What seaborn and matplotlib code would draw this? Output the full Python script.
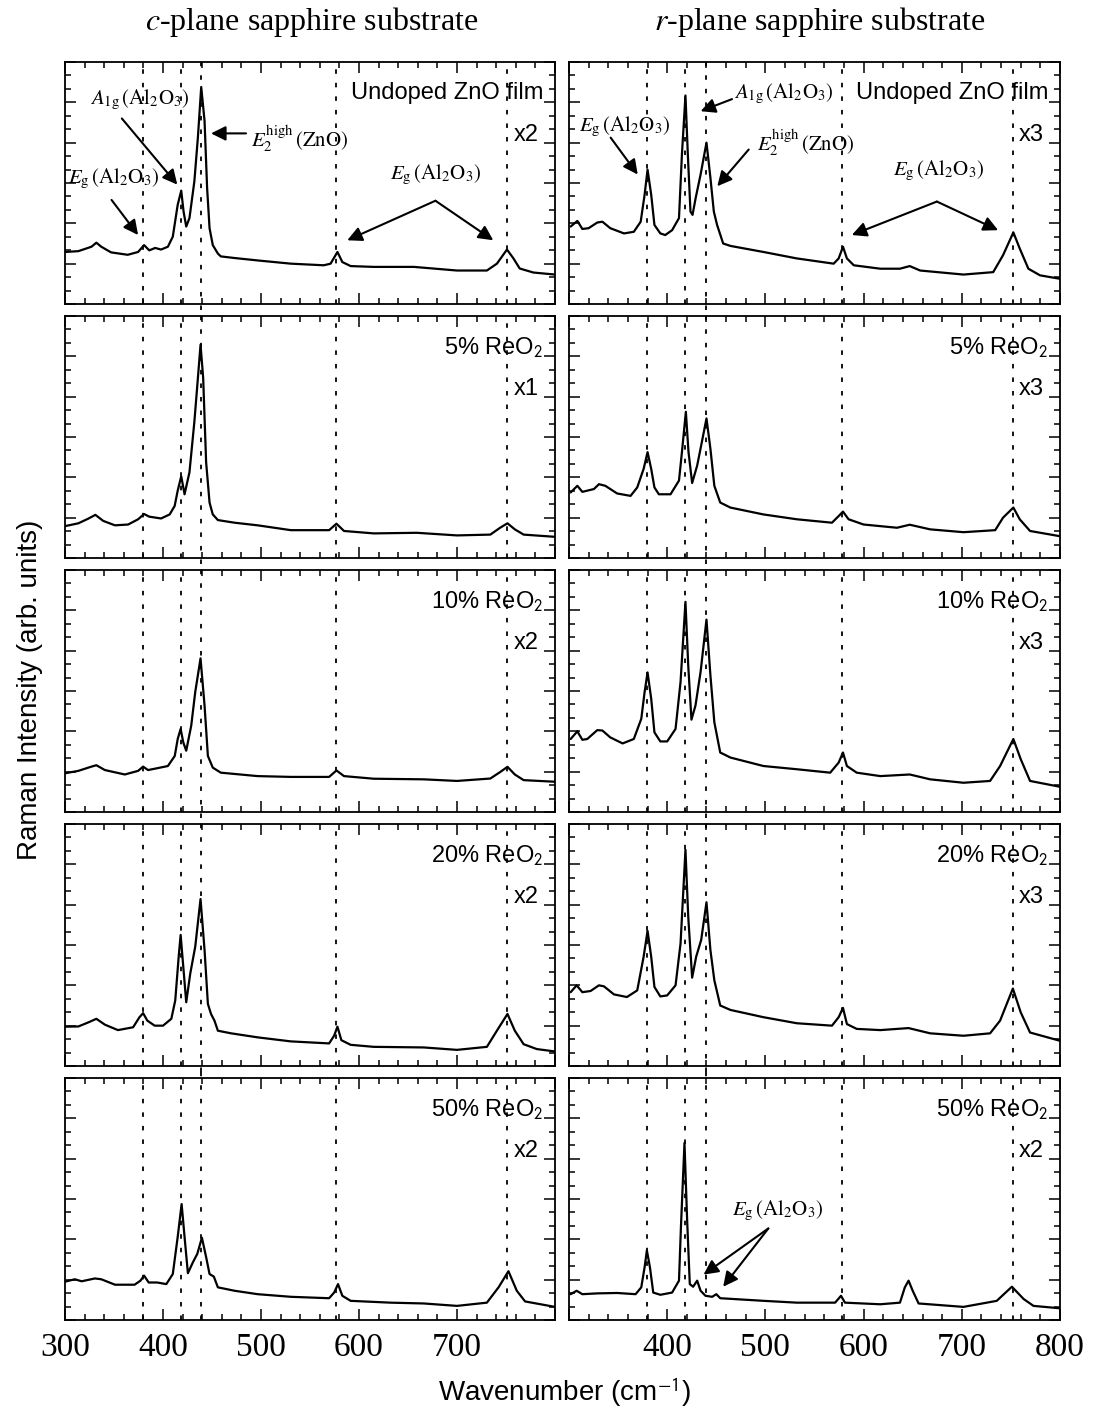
import matplotlib
matplotlib.use("Agg")
import matplotlib.pyplot as plt
from matplotlib.ticker import MultipleLocator
import seaborn as sns

sns.set_theme(style="ticks")
plt.rcParams["font.family"] = ["Liberation Sans", "DejaVu Sans"]
plt.rcParams["mathtext.fontset"] = "stix"
plt.rcParams["text.color"] = "black"
plt.rcParams["axes.labelcolor"] = "black"
plt.rcParams["xtick.color"] = "black"
plt.rcParams["ytick.color"] = "black"

# ---- spectra (wavenumber cm^-1, intensity in tick divisions) ----
c_undoped_x = [300, 313.6, 327, 332, 337, 347, 364, 374.6, 380.7, 386, 392, 398, 405, 410, 415, 418.6, 421, 423.7,
               427, 432, 435.6, 439, 442.4, 445, 447.5, 450.8, 456, 459, 473, 496.6, 530.5, 564, 571, 578, 583,
               591.5, 615, 656, 700, 730.5, 740.7, 751, 757.6, 764, 778, 800]
c_undoped_y = [1.29, 1.31, 1.42, 1.52, 1.42, 1.28, 1.22, 1.29, 1.46, 1.33, 1.39, 1.35, 1.42, 1.67, 2.46, 2.81, 2.29, 1.92,
               2.13, 3.04, 4.13, 5.38, 4.54, 2.88, 1.88, 1.46, 1.25, 1.18, 1.14, 1.08, 1.0, 0.96, 1.0, 1.29, 1.04,
               0.94, 0.92, 0.92, 0.83, 0.83, 1.0, 1.35, 1.13, 0.88, 0.78, 0.73]

r_undoped_x = [301.7, 308.5, 313.6, 320, 328.8, 334, 342, 356, 366, 373, 377, 380, 383.7, 387, 393, 398, 405, 412, 415,
               418.6, 421, 423.7, 425.8, 429, 434, 440, 444, 447.5, 450.8, 457, 464.4, 498, 532, 569.5, 574.6, 579,
               583, 590, 617, 637, 647, 657.6, 701.7, 732, 742, 752.5, 759, 767.8, 779.7, 800]
r_undoped_y = [1.92, 2.06, 1.86, 1.88, 2.02, 2.04, 1.88, 1.75, 1.79, 2.04, 2.71, 3.33, 2.71, 1.96, 1.75, 1.71, 1.83, 2.13,
               3.71, 5.17, 3.71, 2.29, 2.21, 2.63, 3.21, 4.0, 3.13, 2.29, 1.96, 1.5, 1.44, 1.29, 1.13, 1.0, 1.13, 1.42,
               1.13, 0.96, 0.875, 0.875, 0.94, 0.83, 0.73, 0.79, 1.21, 1.775, 1.375, 0.875, 0.71, 0.625]

c_5_x = [300, 313.6, 323.7, 331, 339, 351, 364.4, 374.6, 380.7, 386, 398, 406.8, 411.9, 415, 418.6, 422, 427, 432,
         435.6, 438.3, 441, 444, 447.5, 450.8, 456, 473, 496.6, 530.5, 569.5, 577, 584.7, 615, 659, 700, 734, 744,
         751.5, 759, 768, 800]
c_5_y = [0.79, 0.86, 0.975, 1.07, 0.92, 0.81, 0.83, 0.96, 1.09, 1.025, 0.98, 1.08, 1.29, 1.67, 2.025, 1.58, 2.125, 3.375,
         4.46, 5.29, 4.46, 2.375, 1.375, 1.08, 0.94, 0.875, 0.81, 0.69, 0.69, 0.85, 0.67, 0.61, 0.625, 0.56, 0.58, 0.75,
         0.86, 0.71, 0.58, 0.525]

r_5_x = [301.7, 308.5, 313.6, 325.4, 330.5, 337, 349, 362.7, 369.5, 376, 380, 383.7, 387, 391.5, 403.4, 412, 415, 419,
         421.7, 425.4, 430.5, 434.6, 440, 444, 448, 454, 464.4, 498, 532, 567.8, 574.6, 579, 584.7, 600, 634, 647,
         667.8, 701.7, 734, 742, 752.5, 759, 769.5, 800]
r_5_y = [1.625, 1.79, 1.64, 1.71, 1.83, 1.79, 1.6, 1.54, 1.75, 2.21, 2.625, 2.21, 1.75, 1.58, 1.58, 1.92, 2.625, 3.625,
         2.625, 1.86, 2.29, 2.79, 3.46, 2.71, 1.79, 1.375, 1.25, 1.08, 0.96, 0.875, 1.04, 1.15, 0.96, 0.83, 0.75, 0.825,
         0.71, 0.64, 0.69, 1.0, 1.25, 0.96, 0.67, 0.54]

c_10_x = [300, 313.6, 327, 332, 340.7, 361, 374.6, 379.7, 384.7, 393, 405, 412, 415, 418, 420.7, 423.7, 428.8, 432.9,
          438.3, 442.4, 445.8, 450.8, 459, 496.6, 530.5, 569.5, 577, 584.7, 615, 666, 700, 734, 744, 751.5, 759, 768, 800]
c_10_y = [0.96, 1.02, 1.125, 1.16, 1.04, 0.93, 1.02, 1.125, 1.04, 1.08, 1.14, 1.39, 1.81, 2.06, 1.725, 1.52, 2.14, 2.975,
          3.81, 2.64, 1.39, 1.1, 0.975, 0.89, 0.87, 0.87, 1.03, 0.89, 0.825, 0.81, 0.77, 0.83, 0.99, 1.12, 0.93, 0.79, 0.75]

r_10_x = [301.7, 308.5, 313.6, 318.6, 328.8, 334, 342, 354.6, 366, 373.6, 377, 380, 383.7, 387, 393, 400, 408.5, 413.6,
          418.6, 421.4, 424.7, 428.8, 434, 440, 444, 448, 454, 464.4, 498, 532, 566, 574.6, 579, 583, 593, 617, 647,
          667.8, 701.7, 728.8, 739, 752.5, 760, 769.5, 800]
r_10_y = [1.81, 2.0, 1.79, 1.81, 2.03, 2.02, 1.85, 1.7, 1.81, 2.31, 2.975, 3.46, 2.81, 1.975, 1.75, 1.75, 2.06, 3.225,
          5.21, 3.64, 2.29, 2.64, 3.475, 4.77, 3.39, 2.225, 1.475, 1.35, 1.14, 1.06, 0.975, 1.225, 1.475, 1.14, 0.975,
          0.89, 0.93, 0.81, 0.725, 0.77, 1.14, 1.81, 1.31, 0.77, 0.625]

c_20_x = [300, 313.6, 323.7, 332, 340.7, 354, 369.5, 376, 379.7, 384, 391.5, 400, 408.5, 412.5, 416, 418, 420.7, 423.7,
          427.8, 432.9, 438.3, 442.4, 445.8, 449, 452.5, 456, 469.5, 496.6, 530.5, 569.5, 574.6, 578, 582, 591.5, 615,
          666, 700, 730.5, 740.7, 751.5, 759, 768, 781.4, 800]
c_20_y = [0.975, 0.98, 1.08, 1.17, 1.025, 0.89, 0.96, 1.21, 1.31, 1.125, 1.0, 1.0, 1.17, 1.625, 2.71, 3.25, 2.46, 1.58,
          2.29, 2.96, 4.14, 2.875, 1.54, 1.29, 1.125, 0.875, 0.81, 0.71, 0.61, 0.56, 0.75, 0.975, 0.64, 0.525, 0.475,
          0.46, 0.4, 0.475, 0.875, 1.29, 0.875, 0.54, 0.42, 0.36]

r_20_x = [301.7, 307.8, 313.6, 322, 330.5, 335.6, 345.8, 359, 369.5, 376, 380, 383.7, 387, 393, 400, 408.5, 413.6,
          418.6, 421.4, 425.4, 429.5, 434.6, 440, 444, 448, 454, 464.4, 498, 532, 567.8, 574.6, 579, 583, 593, 617,
          645.8, 667.8, 701.7, 728.8, 739, 752, 760, 769.5, 800]
r_20_y = [1.83, 2.0, 1.83, 1.86, 2.0, 1.975, 1.775, 1.71, 1.875, 2.71, 3.35, 2.71, 1.96, 1.725, 1.75, 2.0, 3.04,
          5.36, 3.71, 2.19, 2.71, 3.125, 4.06, 2.875, 2.125, 1.5, 1.39, 1.21, 1.06, 1.0, 1.21, 1.44, 1.04, 0.92, 0.89,
          0.94, 0.81, 0.75, 0.81, 1.125, 1.92, 1.33, 0.83, 0.625]

c_50_x = [300, 310, 317, 330.5, 337, 351, 371, 377, 380.7, 385.4, 394, 403.4, 410, 415, 419, 422, 425.4, 430.5, 435,
          439.7, 444, 447.5, 451.9, 456, 473, 496.6, 530.5, 569.5, 574.6, 578.6, 583, 591.5, 632, 666, 700, 730.5,
          742.4, 752.5, 761, 769.5, 800]
c_50_y = [0.95, 1.01, 0.96, 1.03, 1.01, 0.875, 0.875, 0.975, 1.1, 0.93, 0.93, 0.89, 1.14, 2.06, 2.875, 2.06, 1.16, 1.43,
          1.64, 2.04, 1.56, 1.14, 1.075, 0.81, 0.725, 0.64, 0.575, 0.54, 0.68, 0.89, 0.6, 0.475, 0.43, 0.41, 0.35, 0.43,
          0.81, 1.21, 0.725, 0.46, 0.325]

r_50_x = [301.7, 307.8, 313.6, 328.8, 349, 367.8, 373.6, 377, 379.3, 382.4, 385.8, 393, 405, 412, 414, 417.6, 420.3,
          423, 426.4, 430.5, 434, 439, 445.8, 450, 454, 498.3, 532, 571, 577, 581, 617, 637, 642, 645.8, 650, 656,
          701.7, 735.6, 751, 763, 773, 800]
r_50_y = [0.64, 0.725, 0.64, 0.66, 0.67, 0.64, 0.81, 1.31, 1.725, 1.31, 0.68, 0.625, 0.68, 0.975, 2.31, 4.39, 2.475,
          0.89, 0.825, 0.975, 0.725, 0.6, 0.575, 0.64, 0.54, 0.475, 0.43, 0.43, 0.6, 0.43, 0.39, 0.43, 0.81, 0.975,
          0.725, 0.41, 0.325, 0.475, 0.825, 0.52, 0.35, 0.29]

sample_labels = ["Undoped ZnO film", "5% ReO$_{\\mathsf{2}}$", "10% ReO$_{\\mathsf{2}}$",
                 "20% ReO$_{\\mathsf{2}}$", "50% ReO$_{\\mathsf{2}}$"]
c_factors = ["x2", "x1", "x2", "x2", "x2"]
r_factors = ["x3", "x3", "x3", "x3", "x2"]
c_lines = [380, 418, 439, 577, 751]
r_lines = [379, 418, 440, 578, 752]
c_ticklabels = ["300", "400", "500", "600", "700", ""]
r_ticklabels = ["", "400", "500", "600", "700", "800"]

spectra = [
    [(c_undoped_x, c_undoped_y), (r_undoped_x, r_undoped_y)],
    [(c_5_x, c_5_y), (r_5_x, r_5_y)],
    [(c_10_x, c_10_y), (r_10_x, r_10_y)],
    [(c_20_x, c_20_y), (r_20_x, r_20_y)],
    [(c_50_x, c_50_y), (r_50_x, r_50_y)],
]

# ---- layout (pixels of a 1093x1416 canvas) ----
W, H = 1093, 1416
fig = plt.figure(figsize=(W / 100, H / 100), dpi=100)
col_left = [65, 569]
col_width = [490, 491]
row_top = [62, 316, 570, 824, 1078]
row_h = 242
gap_frac = 12 / row_h

serif = ["Liberation Serif", "DejaVu Serif"]
label_fs = 17
note_fs = 15
arrow_kw = dict(arrowstyle="-|>", color="black", lw=1.5, mutation_scale=22, shrinkA=0, shrinkB=0)

axes = []
for r in range(5):
    row_axes = []
    for c in range(2):
        ax = fig.add_axes([col_left[c] / W, 1 - (row_top[r] + row_h) / H, col_width[c] / W, row_h / H])
        xs, ys = spectra[r][c]
        sns.lineplot(x=xs, y=ys, ax=ax, color="black", linewidth=1.6, estimator=None, sort=False)

        lines = c_lines if c == 0 else r_lines
        for i, wn in enumerate(lines):
            if i == 2:
                # the E2(high) line runs on through the gaps between panels
                lo = 0 if r == 4 else -gap_frac / 2
                hi = 1 if r == 0 else 1 + gap_frac / 2
                ax.axvline(wn, ymin=lo, ymax=hi, color="black", lw=1.3, ls=(0, (2.5, 5)), clip_on=False)
            else:
                ax.axvline(wn, color="black", lw=1.3, ls=(0, (2.5, 5)))

        ax.set_xlim(300, 800)
        ax.set_ylim(0, 6)
        ax.xaxis.set_major_locator(MultipleLocator(100))
        ax.xaxis.set_minor_locator(MultipleLocator(20))
        ax.yaxis.set_major_locator(MultipleLocator(1))
        ax.yaxis.set_minor_locator(MultipleLocator(1 / 3))
        ax.tick_params(which="both", direction="in", top=True, right=True, color="black", width=1.1)
        ax.tick_params(which="major", length=8)
        ax.tick_params(which="minor", length=4.5)
        ax.set_yticklabels([])
        ax.set_xticks([300, 400, 500, 600, 700, 800])
        if r == 4:
            ax.set_xticklabels(c_ticklabels if c == 0 else r_ticklabels, fontfamily=serif, fontsize=24)
            ax.tick_params(axis="x", pad=9)
        else:
            ax.set_xticklabels([])
        for s in ax.spines.values():
            s.set_color("black")
            s.set_linewidth(1.3)
        ax.set_xlabel("")
        ax.set_ylabel("")

        ax.text(0.976, 0.87, sample_labels[r], transform=ax.transAxes, ha="right", va="center",
                fontsize=label_fs, color="black")
        ax.text(0.966, 0.70, (c_factors if c == 0 else r_factors)[r], transform=ax.transAxes,
                ha="right", va="center", fontsize=label_fs, color="black")
        row_axes.append(ax)
    axes.append(row_axes)

eg = r"$E_{\mathrm{g}}\,(\mathrm{Al}_2\mathrm{O}_3)$"
a1g = r"$A_{\mathrm{1g}}\,(\mathrm{Al}_2\mathrm{O}_3)$"
e2h = r"$E_2^{\mathrm{high}}\,(\mathrm{ZnO})$"

# c-plane undoped annotations
ax = axes[0][0]
ax.text(325, 5.05, a1g, fontsize=note_fs, ha="left", va="center")
ax.annotate("", xy=(414.6, 2.96), xytext=(358, 4.6), arrowprops=arrow_kw)
ax.text(490, 4.1, e2h, fontsize=note_fs, ha="left", va="center")
ax.annotate("", xy=(449, 4.23), xytext=(484.7, 4.23), arrowprops=arrow_kw)
ax.text(303, 3.1, eg, fontsize=note_fs, ha="left", va="center")
ax.annotate("", xy=(374.6, 1.71), xytext=(347.5, 2.58), arrowprops=arrow_kw)
ax.text(632, 3.2, eg, fontsize=note_fs, ha="left", va="center")
ax.annotate("", xy=(588, 1.58), xytext=(678, 2.56), arrowprops=arrow_kw)
ax.annotate("", xy=(737, 1.58), xytext=(678, 2.56), arrowprops=arrow_kw)

# r-plane undoped annotations
ax = axes[0][1]
ax.text(310, 4.4, eg, fontsize=note_fs, ha="left", va="center")
ax.annotate("", xy=(370, 3.21), xytext=(342.4, 4.125), arrowprops=arrow_kw)
ax.text(468, 5.2, a1g, fontsize=note_fs, ha="left", va="center")
ax.annotate("", xy=(434, 4.78), xytext=(466, 5.08), arrowprops=arrow_kw)
ax.text(491, 4.0, e2h, fontsize=note_fs, ha="left", va="center")
ax.annotate("", xy=(451, 2.92), xytext=(483, 3.83), arrowprops=arrow_kw)
ax.text(630, 3.3, eg, fontsize=note_fs, ha="left", va="center")
ax.annotate("", xy=(588, 1.71), xytext=(674.6, 2.54), arrowprops=arrow_kw)
ax.annotate("", xy=(737, 1.83), xytext=(674.6, 2.54), arrowprops=arrow_kw)

# r-plane 50% annotation
ax = axes[4][1]
ax.text(466, 2.7, eg, fontsize=note_fs, ha="left", va="center")
ax.annotate("", xy=(437, 1.125), xytext=(503, 2.27), arrowprops=arrow_kw)
ax.annotate("", xy=(457, 0.825), xytext=(503, 2.27), arrowprops=arrow_kw)

# column titles and axis labels
fig.text(312 / W, 1 - 22 / H, r"$c$-plane sapphire substrate", fontfamily=serif, fontsize=23,
         ha="center", va="center")
fig.text(820 / W, 1 - 22 / H, r"$r$-plane sapphire substrate", fontfamily=serif, fontsize=23,
         ha="center", va="center")
fig.text(30 / W, 1 - 690 / H, "Raman Intensity (arb. units)", rotation=90, fontsize=20,
         ha="center", va="center")
fig.text(565 / W, 1 - 1392 / H, r"Wavenumber (cm$^{\mathsf{-1}}$)", fontsize=20, ha="center", va="center")

fig.savefig("out.png", dpi=100)
